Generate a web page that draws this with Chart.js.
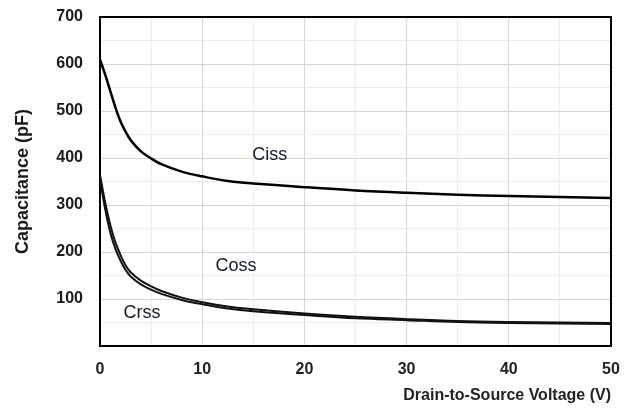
<!DOCTYPE html>
<html>
<head>
<meta charset="utf-8">
<script src="https://cdn.jsdelivr.net/npm/chart.js@4.4.0/dist/chart.umd.min.js"></script>
<style>
  html, body { margin: 0; padding: 0; background: #fff; }
  #wrap { width: 631px; height: 417px; }
</style>
</head>
<body>
<div id="wrap"><canvas id="capChart"></canvas></div>
<script>
// --- Data ---
const voltage = [0, 0.5, 1, 1.5, 2, 2.5, 3, 4, 5, 6, 8, 10, 12.5, 15, 20, 25, 30, 35, 40, 45, 50];
const ciss = [609, 578, 543, 508, 478, 456, 438, 414, 399, 387, 371, 361, 351, 346, 338, 331, 326, 322, 319, 317, 315];
const coss = [364, 306, 258, 221, 194, 172, 157, 139, 127, 117, 103, 93, 84, 78, 69, 62, 57, 53, 51, 50, 49];
const crss = [354, 292, 242, 207, 182, 162, 148, 131, 120, 111, 98, 89, 80, 74, 66, 59, 55, 51, 49, 48, 47];

const xTicks = [0, 10, 20, 30, 40, 50];
const yTicks = [100, 200, 300, 400, 500, 600, 700];

// curve labels: name, voltage, capacitance
const curveNames = ['Ciss', 'Coss', 'Crss'];
const nameX = [16.6, 13.3, 4.1];
const nameY = [406, 170, 70];

const toPoints = (ys) => voltage.map((v, i) => ({ x: v, y: ys[i] }));

// frame on top/right + curve names
const frameAndNames = {
    id: 'frameAndNames',
    afterDatasetsDraw(chart) {
        const { ctx, chartArea: a, scales: { x, y } } = chart;
        ctx.save();
        ctx.strokeStyle = '#000';
        ctx.lineWidth = 2;
        ctx.beginPath();
        ctx.moveTo(a.left, a.top);
        ctx.lineTo(a.right, a.top);
        ctx.lineTo(a.right, a.bottom);
        ctx.stroke();

        ctx.fillStyle = '#141a2a';
        ctx.font = "18px 'Liberation Sans', Arial, sans-serif";
        ctx.textAlign = 'center';
        ctx.textBaseline = 'middle';
        curveNames.forEach((n, i) => {
            ctx.fillText(n, x.getPixelForValue(nameX[i]), y.getPixelForValue(nameY[i]));
        });
        ctx.restore();
    }
};

const gridColor = (major) => (c) => (c.tick && c.tick.value % major === 0) ? '#d6d6d6' : '#ececec';
const tickFont = { family: "'Liberation Sans', Arial, sans-serif", size: 16, weight: 'bold' };

const ctx = document.getElementById('capChart').getContext('2d');
new Chart(ctx, {
    type: 'line',
    data: {
        datasets: [
            { label: 'Ciss', data: toPoints(ciss), borderColor: '#000', borderWidth: 2.5 },
            { label: 'Coss', data: toPoints(coss), borderColor: '#111', borderWidth: 2 },
            { label: 'Crss', data: toPoints(crss), borderColor: '#111', borderWidth: 2 }
        ]
    },
    options: {
        responsive: true,
        maintainAspectRatio: false,
        animation: false,
        elements: {
            point: { radius: 0 },
            line: { tension: 0.35, fill: false }
        },
        layout: { padding: { top: 17, right: 20, left: 10, bottom: 8 } },
        plugins: { legend: { display: false }, tooltip: { enabled: false } },
        scales: {
            x: {
                type: 'linear',
                min: 0,
                max: 50,
                afterFit: (s) => { s.height = 63; s.paddingLeft = 0; s.paddingRight = 0; },
                border: { color: '#000', width: 2 },
                grid: { color: gridColor(10), lineWidth: 1, drawTicks: false },
                ticks: {
                    stepSize: 5,
                    padding: 14,
                    color: '#222',
                    font: tickFont,
                    maxRotation: 0,
                    callback: (v) => xTicks.includes(v) ? String(v) : ''
                },
                title: {
                    display: true,
                    text: 'Drain-to-Source Voltage (V)',
                    align: 'end',
                    color: '#222',
                    font: tickFont,
                    padding: { top: 6 }
                }
            },
            y: {
                min: 0,
                max: 700,
                afterFit: (s) => { s.width = 90; s.paddingTop = 0; s.paddingBottom = 0; },
                border: { color: '#000', width: 2 },
                grid: { color: gridColor(100), lineWidth: 1, drawTicks: false },
                ticks: {
                    stepSize: 50,
                    padding: 17,
                    color: '#1a1a1a',
                    font: tickFont,
                    callback: (v) => yTicks.includes(v) ? String(v) : ''
                },
                title: {
                    display: true,
                    text: 'Capacitance (pF)',
                    color: '#1a1a1a',
                    font: { family: "'Liberation Sans', Arial, sans-serif", size: 18, weight: 'bold' },
                    padding: { top: 2, bottom: 0 }
                }
            }
        }
    },
    plugins: [frameAndNames]
});
</script>
</body>
</html>
